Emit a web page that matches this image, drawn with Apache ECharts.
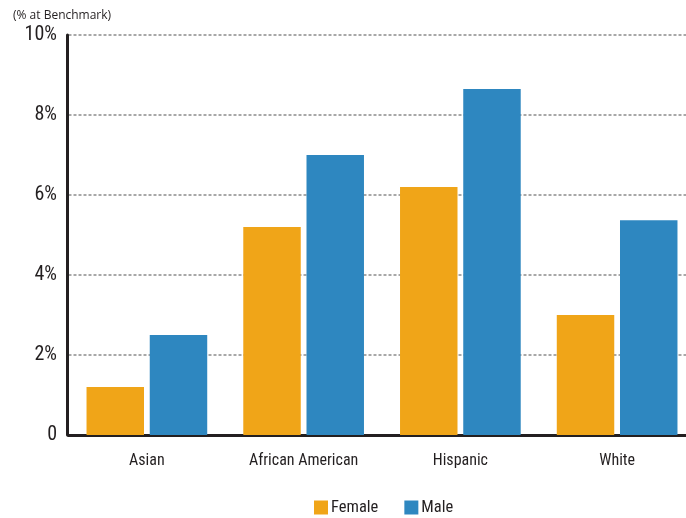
<!DOCTYPE html>
<html>
<head>
<meta charset="utf-8">
<style>
  html, body { margin: 0; padding: 0; background: #fff; }
  #chart { width: 686px; height: 518px; }
</style>
<script src="https://cdn.jsdelivr.net/npm/echarts@6/dist/echarts.min.js"></script>
</head>
<body>
<div id="chart"></div>
<script>
// Share of students at benchmark, by group and sex
const categories = ['Asian', 'African American', 'Hispanic', 'White'];
const femaleValues = [1.2, 5.2, 6.2, 3.0];
const maleValues = [2.5, 7.0, 8.65, 5.37];
const yTicks = [0, 2, 4, 6, 8, 10];

const condensed = '"Roboto Condensed", "DejaVu Sans Condensed", sans-serif';
const ink = '#231f20';

const chart = echarts.init(document.getElementById('chart'), null, { renderer: 'canvas' });
chart.setOption({
  animation: false,
  backgroundColor: '#ffffff',
  title: {
    text: '(% at Benchmark)',
    left: 8,
    top: 5,
    textStyle: { fontFamily: '"Open Sans", "Noto Sans", sans-serif', fontSize: 12, fontWeight: 'normal', color: ink }
  },
  legend: {
    bottom: -3,
    left: 309,
    itemWidth: 14,
    itemHeight: 14,
    itemGap: 26,
    icon: 'rect',
    textStyle: { fontFamily: condensed, fontSize: 16.5, color: ink, padding: [0, 0, 0, -2] },
    data: ['Female', 'Male']
  },
  // the plot runs a little past the right edge of the canvas
  grid: { left: 68.5, right: -9.5, top: 35, bottom: 83, containLabel: false, outerBoundsMode: 'none' },
  xAxis: {
    type: 'category',
    data: categories,
    axisLine: { lineStyle: { color: ink, width: 3 } },
    axisTick: { show: false },
    axisLabel: { interval: 0, fontFamily: condensed, fontSize: 16, color: ink, margin: 18 }
  },
  yAxis: {
    type: 'value',
    min: 0,
    max: 10,
    interval: 2,
    offset: 1.5,
    axisLine: { show: true, lineStyle: { color: ink, width: 3 } },
    axisTick: { show: false },
    axisLabel: {
      fontFamily: condensed,
      fontSize: 20,
      color: ink,
      margin: 10,
      formatter: v => (yTicks.includes(v) ? (v === 0 ? '0' : v + '%') : '')
    },
    splitLine: { lineStyle: { color: '#8c8c8c', width: 1.5, type: [3, 2] } }
  },
  series: [
    {
      name: 'Female',
      type: 'bar',
      data: femaleValues,
      barGap: '10%',
      barCategoryGap: '23%',
      itemStyle: { color: '#f0a518' }
    },
    {
      name: 'Male',
      type: 'bar',
      data: maleValues,
      itemStyle: { color: '#2e87c0' }
    }
  ]
});
</script>
</body>
</html>
